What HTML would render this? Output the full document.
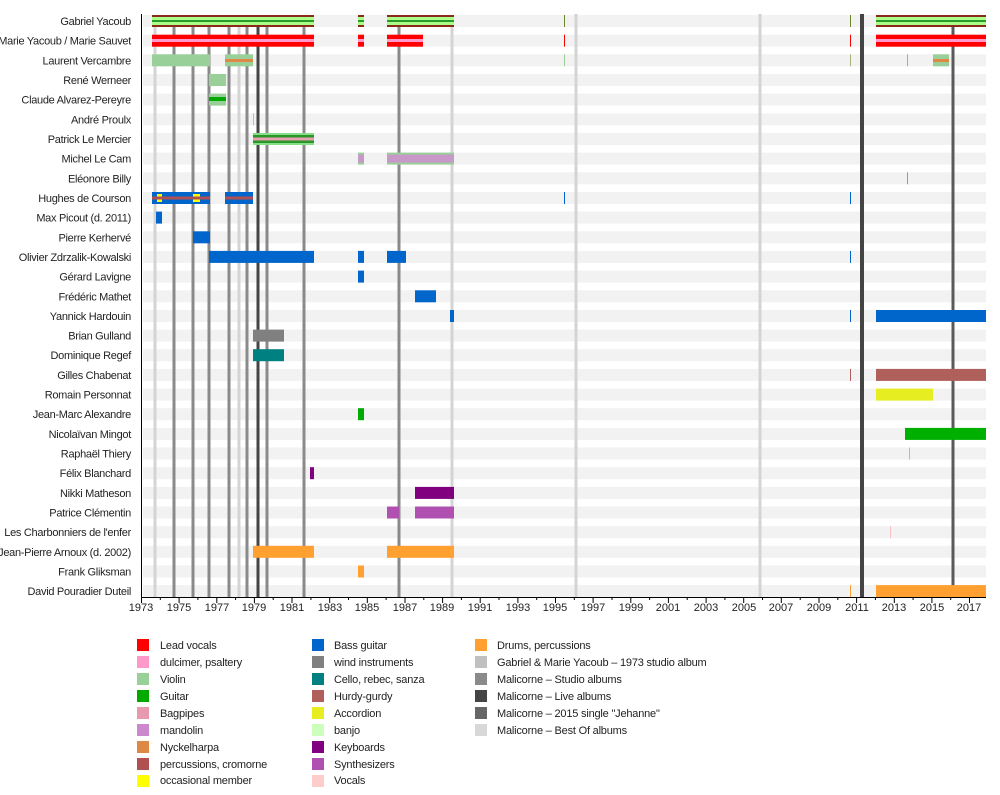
<!DOCTYPE html>
<html><head><meta charset="utf-8"><style>body{margin:0;background:#fff}svg{display:block}text{font-family:"Liberation Sans",Arial,sans-serif;font-size:11px;fill:#222}</style></head><body>
<svg width="1000" height="795" xmlns="http://www.w3.org/2000/svg">
<g fill="#f2f2f2">
<rect x="143" y="15" width="843" height="12"/><rect x="143" y="34.7" width="843" height="12"/><rect x="143" y="54.3" width="843" height="12"/><rect x="143" y="74" width="843" height="12"/><rect x="143" y="93.6" width="843" height="12"/><rect x="143" y="113.3" width="843" height="12"/><rect x="143" y="133" width="843" height="12"/><rect x="143" y="152.6" width="843" height="12"/><rect x="143" y="172.3" width="843" height="12"/><rect x="143" y="192" width="843" height="12"/><rect x="143" y="211.6" width="843" height="12"/><rect x="143" y="231.3" width="843" height="12"/><rect x="143" y="250.9" width="843" height="12"/><rect x="143" y="270.6" width="843" height="12"/><rect x="143" y="290.3" width="843" height="12"/><rect x="143" y="310" width="843" height="12"/><rect x="143" y="329.6" width="843" height="12"/><rect x="143" y="349.2" width="843" height="12"/><rect x="143" y="368.9" width="843" height="12"/><rect x="143" y="388.6" width="843" height="12"/><rect x="143" y="408.2" width="843" height="12"/><rect x="143" y="427.9" width="843" height="12"/><rect x="143" y="447.5" width="843" height="12"/><rect x="143" y="467.2" width="843" height="12"/><rect x="143" y="486.9" width="843" height="12"/><rect x="143" y="506.5" width="843" height="12"/><rect x="143" y="526.2" width="843" height="12"/><rect x="143" y="545.8" width="843" height="12"/><rect x="143" y="565.5" width="843" height="12"/><rect x="143" y="585.1" width="843" height="12"/>
</g>
<g stroke-width="3">
<g stroke="#d4d4d4"><line x1="155" y1="27" x2="155" y2="597"/><line x1="239" y1="27" x2="239" y2="597"/><line x1="452" y1="27" x2="452" y2="597"/><line x1="576" y1="14" x2="576" y2="597"/><line x1="760" y1="14" x2="760" y2="597"/></g>
<g stroke="#8a8a8a"><line x1="174" y1="27" x2="174" y2="597"/><line x1="193" y1="27" x2="193" y2="597"/><line x1="209" y1="27" x2="209" y2="597"/><line x1="229" y1="27" x2="229" y2="597"/><line x1="247" y1="27" x2="247" y2="597"/><line x1="267" y1="27" x2="267" y2="597"/><line x1="304" y1="27" x2="304" y2="597"/><line x1="399" y1="27" x2="399" y2="597"/></g>
<g stroke="#444"><line x1="258" y1="27" x2="258" y2="597"/><line x1="862" y1="14" x2="862" y2="597" stroke-width="4"/></g>
<line x1="953" y1="27" x2="953" y2="597" stroke="#5a5a5a"/>
</g>
<g>
<rect x="152" y="15" width="162" height="12" fill="#8b2a1a"/><rect x="152" y="17" width="162" height="8" fill="#aaff88"/><rect x="152" y="20" width="162" height="2" fill="#2a9a2a"/>
<rect x="358" y="15" width="6" height="12" fill="#8b2a1a"/><rect x="358" y="17" width="6" height="8" fill="#aaff88"/><rect x="358" y="20" width="6" height="2" fill="#2a9a2a"/>
<rect x="387" y="15" width="67" height="12" fill="#8b2a1a"/><rect x="387" y="17" width="67" height="8" fill="#aaff88"/><rect x="387" y="20" width="67" height="2" fill="#2a9a2a"/>
<rect x="876" y="15" width="110" height="12" fill="#8b2a1a"/><rect x="876" y="17" width="110" height="8" fill="#aaff88"/><rect x="876" y="20" width="110" height="2" fill="#2a9a2a"/>
<rect x="564" y="15" width="1" height="12" fill="#6a8a2a"/><rect x="850" y="15" width="1" height="12" fill="#6a8a2a"/>
</g>
<g fill="#ff0000">
<rect x="152" y="34.7" width="162" height="12"/><rect x="358" y="34.7" width="6" height="12"/><rect x="387" y="34.7" width="36" height="12"/><rect x="876" y="34.7" width="110" height="12"/>
<rect x="564" y="34.7" width="1" height="12"/><rect x="850" y="34.7" width="1" height="12"/>
</g>
<g fill="#ff99cc"><rect x="152" y="39" width="162" height="3"/><rect x="358" y="39" width="6" height="3"/><rect x="387" y="39" width="36" height="3"/><rect x="876" y="39" width="110" height="3"/></g>
<rect x="152" y="54.3" width="58" height="12" fill="#99d099"/>
<rect x="225" y="54.3" width="28" height="12" fill="#99d099"/><rect x="225" y="59" width="28" height="3" fill="#dd8844"/>
<rect x="933" y="54.3" width="16" height="12" fill="#99d099"/><rect x="933" y="59" width="16" height="3" fill="#dd8844"/>
<rect x="564" y="54.3" width="1" height="12" fill="#99d099"/><rect x="850" y="54.3" width="1" height="12" fill="#aab07a"/><rect x="907" y="54.3" width="1" height="12" fill="#aab07a"/>
<rect x="209" y="74" width="17" height="12" fill="#99d099"/>
<rect x="209" y="93.6" width="17" height="12" fill="#99d099"/><rect x="209" y="97" width="17" height="4" fill="#00aa00"/>
<rect x="253" y="113.3" width="1" height="12" fill="#bbb"/>
<rect x="253" y="133" width="61" height="12" fill="#88dd88"/><rect x="253" y="135" width="61" height="8" fill="#2a962a"/><rect x="253" y="137.5" width="61" height="3" fill="#e8a0b0"/>
<rect x="358" y="152.6" width="6" height="12" fill="#99d099"/><rect x="358" y="154.6" width="6" height="8" fill="#c898c8"/>
<rect x="387" y="152.6" width="67" height="12" fill="#99d099"/><rect x="387" y="154.6" width="67" height="8" fill="#c898c8"/>
<rect x="907" y="172.3" width="1" height="12" fill="#dd8844"/>
<g fill="#0066cc"><rect x="152" y="192" width="58" height="12"/><rect x="225" y="192" width="28" height="12"/><rect x="564" y="192" width="1" height="12"/><rect x="850" y="192" width="1" height="12"/></g>
<g fill="#ffff00"><rect x="157" y="194" width="5" height="8"/><rect x="193" y="194" width="7" height="8"/></g>
<g fill="#b05050"><rect x="152" y="196.5" width="58" height="3"/><rect x="225" y="196.5" width="28" height="3"/></g>
<g fill="#0066cc">
<rect x="156" y="211.6" width="6" height="12"/>
<rect x="193" y="231.3" width="17" height="12"/>
<rect x="209" y="250.9" width="105" height="12"/><rect x="358" y="250.9" width="6" height="12"/><rect x="387" y="250.9" width="19" height="12"/><rect x="850" y="250.9" width="1" height="12"/>
<rect x="358" y="270.6" width="6" height="12"/>
<rect x="415" y="290.3" width="21" height="12"/>
<rect x="450" y="310" width="4" height="12"/><rect x="850" y="310" width="1" height="12"/><rect x="876" y="310" width="110" height="12"/>
</g>
<rect x="253" y="329.6" width="31" height="12" fill="#808080"/>
<rect x="253" y="349.2" width="31" height="12" fill="#008080"/>
<rect x="876" y="368.9" width="110" height="12" fill="#b0605a"/><rect x="850" y="368.9" width="1" height="12" fill="#b0605a"/>
<rect x="876" y="388.6" width="57" height="12" fill="#e6ee22"/>
<rect x="358" y="408.2" width="6" height="12" fill="#00aa00"/>
<rect x="905" y="427.9" width="81" height="12" fill="#00b000"/>
<rect x="909" y="447.5" width="1" height="12" fill="#f4a0a0"/>
<rect x="310" y="467.2" width="4" height="12" fill="#800080"/>
<rect x="415" y="486.9" width="39" height="12" fill="#800080"/>
<rect x="387" y="506.5" width="12" height="12" fill="#b050b0"/><rect x="415" y="506.5" width="39" height="12" fill="#b050b0"/>
<rect x="890" y="526.2" width="1" height="12" fill="#f8c0c0"/>
<g fill="#ffa030"><rect x="253" y="545.8" width="61" height="12"/><rect x="387" y="545.8" width="67" height="12"/>
<rect x="358" y="565.5" width="6" height="12"/>
<rect x="876" y="585.1" width="110" height="12"/><rect x="850" y="585.1" width="1" height="12"/></g>
<line x1="141.5" y1="14" x2="141.5" y2="598" stroke="#000" stroke-width="1"/>
<line x1="141" y1="597.5" x2="986" y2="597.5" stroke="#000" stroke-width="1"/>
<g stroke="#000" stroke-width="1">
<path d="M141.5 597v6M160.3 597v3M179.1 597v6M197.9 597v3M216.8 597v6M235.6 597v3M254.4 597v6M273.2 597v3M292 597v6M310.9 597v3M329.7 597v6M348.5 597v3M367.3 597v6M386.1 597v3M405 597v6M423.8 597v3M442.6 597v6M461.4 597v3M480.2 597v6M499 597v3M517.9 597v6M536.7 597v3M555.5 597v6M574.3 597v3M593.1 597v6M612 597v3M630.8 597v6M649.6 597v3M668.4 597v6M687.2 597v3M706.1 597v6M724.9 597v3M743.7 597v6M762.5 597v3M781.3 597v6M800.2 597v3M819 597v6M837.8 597v3M856.6 597v6M875.4 597v3M894.3 597v6M913.1 597v3M931.9 597v6M950.7 597v3M969.5 597v6"/>
</g>
<g text-anchor="middle">
<text x="141" y="611">1973</text><text x="179" y="611">1975</text><text x="217" y="611">1977</text><text x="254" y="611">1979</text><text x="292" y="611">1981</text><text x="330" y="611">1983</text><text x="367" y="611">1985</text><text x="405" y="611">1987</text><text x="442" y="611">1989</text><text x="480" y="611">1991</text><text x="518" y="611">1993</text><text x="555" y="611">1995</text><text x="593" y="611">1997</text><text x="631" y="611">1999</text><text x="668" y="611">2001</text><text x="706" y="611">2003</text><text x="744" y="611">2005</text><text x="781" y="611">2007</text><text x="819" y="611">2009</text><text x="857" y="611">2011</text><text x="894" y="611">2013</text><text x="932" y="611">2015</text><text x="969" y="611">2017</text>
</g>
<g text-anchor="end" letter-spacing="-0.3">
<text x="131" y="25">Gabriel Yacoub</text>
<text x="131" y="44.7">Marie Yacoub / Marie Sauvet</text>
<text x="131" y="64.3">Laurent Vercambre</text>
<text x="131" y="84">René Werneer</text>
<text x="131" y="103.6">Claude Alvarez-Pereyre</text>
<text x="131" y="123.3">André Proulx</text>
<text x="131" y="143">Patrick Le Mercier</text>
<text x="131" y="162.6">Michel Le Cam</text>
<text x="131" y="182.3">Eléonore Billy</text>
<text x="131" y="202">Hughes de Courson</text>
<text x="131" y="221.6">Max Picout (d. 2011)</text>
<text x="131" y="241.3">Pierre Kerhervé</text>
<text x="131" y="260.9">Olivier Zdrzalik-Kowalski</text>
<text x="131" y="280.6">Gérard Lavigne</text>
<text x="131" y="300.3">Frédéric Mathet</text>
<text x="131" y="320">Yannick Hardouin</text>
<text x="131" y="339.6">Brian Gulland</text>
<text x="131" y="359.2">Dominique Regef</text>
<text x="131" y="378.9">Gilles Chabenat</text>
<text x="131" y="398.6">Romain Personnat</text>
<text x="131" y="418.2">Jean-Marc Alexandre</text>
<text x="131" y="437.9">Nicolaïvan Mingot</text>
<text x="131" y="457.5">Raphaël Thiery</text>
<text x="131" y="477.2">Félix Blanchard</text>
<text x="131" y="496.9">Nikki Matheson</text>
<text x="131" y="516.5">Patrice Clémentin</text>
<text x="131" y="536.2">Les Charbonniers de l'enfer</text>
<text x="131" y="555.8">Jean-Pierre Arnoux (d. 2002)</text>
<text x="131" y="575.5">Frank Gliksman</text>
<text x="131" y="595.1">David Pouradier Duteil</text>
</g>
<g letter-spacing="-0.2">
<rect x="137" y="639" width="12" height="12" fill="#ff0000"/><text x="160" y="649">Lead vocals</text>
<rect x="137" y="656" width="12" height="12" fill="#ff99cc"/><text x="160" y="666">dulcimer, psaltery</text>
<rect x="137" y="673" width="12" height="12" fill="#99d099"/><text x="160" y="683">Violin</text>
<rect x="137" y="690" width="12" height="12" fill="#00aa00"/><text x="160" y="700">Guitar</text>
<rect x="137" y="707" width="12" height="12" fill="#e899b0"/><text x="160" y="717">Bagpipes</text>
<rect x="137" y="724" width="12" height="12" fill="#cc88cc"/><text x="160" y="734">mandolin</text>
<rect x="137" y="741" width="12" height="12" fill="#dd8844"/><text x="160" y="751">Nyckelharpa</text>
<rect x="137" y="758" width="12" height="12" fill="#b05050"/><text x="160" y="768">percussions, cromorne</text>
<rect x="137" y="775" width="12" height="12" fill="#ffff00"/><text x="160" y="784">occasional member</text>
<rect x="312" y="639" width="12" height="12" fill="#0066cc"/><text x="334" y="649">Bass guitar</text>
<rect x="312" y="656" width="12" height="12" fill="#808080"/><text x="334" y="666">wind instruments</text>
<rect x="312" y="673" width="12" height="12" fill="#008080"/><text x="334" y="683">Cello, rebec, sanza</text>
<rect x="312" y="690" width="12" height="12" fill="#b0605a"/><text x="334" y="700">Hurdy-gurdy</text>
<rect x="312" y="707" width="12" height="12" fill="#e6ee22"/><text x="334" y="717">Accordion</text>
<rect x="312" y="724" width="12" height="12" fill="#ccffbb"/><text x="334" y="734">banjo</text>
<rect x="312" y="741" width="12" height="12" fill="#800080"/><text x="334" y="751">Keyboards</text>
<rect x="312" y="758" width="12" height="12" fill="#b050b0"/><text x="334" y="768">Synthesizers</text>
<rect x="312" y="775" width="12" height="12" fill="#ffcccc"/><text x="334" y="784">Vocals</text>
<rect x="475" y="639" width="12" height="12" fill="#ffa030"/><text x="497" y="649">Drums, percussions</text>
<rect x="475" y="656" width="12" height="12" fill="#c0c0c0"/><text x="497" y="666">Gabriel &amp; Marie Yacoub – 1973 studio album</text>
<rect x="475" y="673" width="12" height="12" fill="#8a8a8a"/><text x="497" y="683">Malicorne – Studio albums</text>
<rect x="475" y="690" width="12" height="12" fill="#444"/><text x="497" y="700">Malicorne – Live albums</text>
<rect x="475" y="707" width="12" height="12" fill="#666"/><text x="497" y="717">Malicorne – 2015 single "Jehanne"</text>
<rect x="475" y="724" width="12" height="12" fill="#d8d8d8"/><text x="497" y="734">Malicorne – Best Of albums</text>
</g>
</svg>
</body></html>
